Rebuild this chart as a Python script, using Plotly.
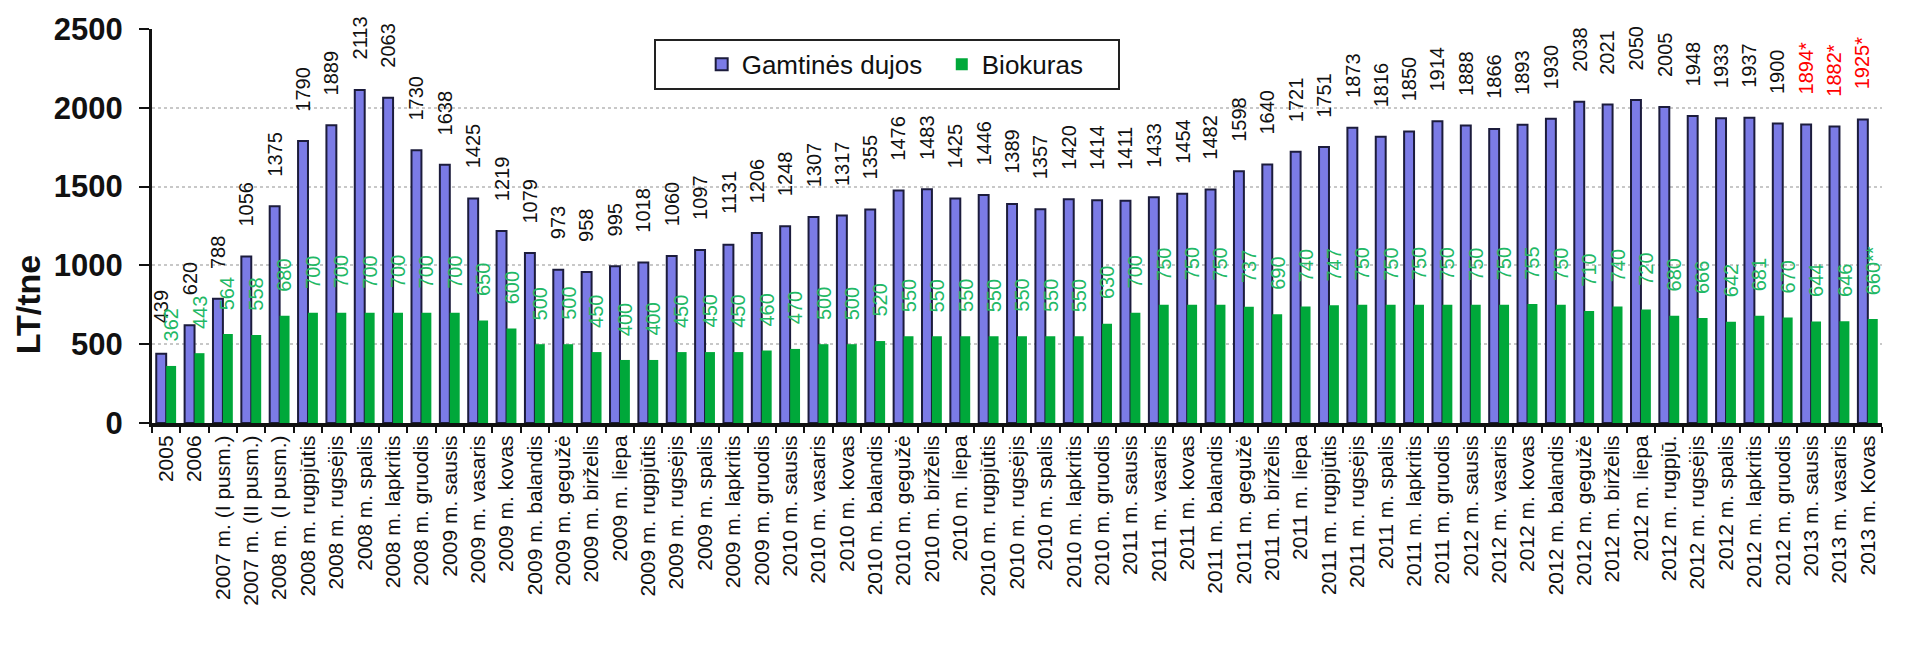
import plotly.graph_objects as go

categories = [
    "2005", "2006", "2007 m. (I pusm.)", "2007 m. (II pusm.)", "2008 m. (I pusm.)",
    "2008 m. rugpjūtis", "2008 m. rugsėjis", "2008 m. spalis", "2008 m. lapkritis", "2008 m. gruodis",
    "2009 m. sausis", "2009 m. vasaris", "2009 m. kovas", "2009 m. balandis", "2009 m. gegužė",
    "2009 m. birželis", "2009 m. liepa", "2009 m. rugpjūtis", "2009 m. rugsėjis", "2009 m. spalis",
    "2009 m. lapkritis", "2009 m. gruodis", "2010 m. sausis", "2010 m. vasaris", "2010 m. kovas",
    "2010 m. balandis", "2010 m. gegužė", "2010 m. birželis", "2010 m. liepa", "2010 m. rugpjūtis",
    "2010 m. rugsėjis", "2010 m. spalis", "2010 m. lapkritis", "2010 m. gruodis", "2011 m. sausis",
    "2011 m. vasaris", "2011 m. kovas", "2011 m. balandis", "2011 m. gegužė", "2011 m. birželis",
    "2011 m. liepa", "2011 m. rugpjūtis", "2011 m. rugsėjis", "2011 m. spalis", "2011 m. lapkritis",
    "2011 m. gruodis", "2012 m. sausis", "2012 m. vasaris", "2012 m. kovas", "2012 m. balandis",
    "2012 m. gegužė", "2012 m. birželis", "2012 m. liepa", "2012 m. rugpjū.", "2012 m. rugsėjis",
    "2012 m. spalis", "2012 m. lapkritis", "2012 m. gruodis", "2013 m. sausis", "2013 m. vasaris",
    "2013 m. Kovas",
]

gas = [
    439, 620, 788, 1056, 1375, 1790, 1889, 2113, 2063, 1730,
    1638, 1425, 1219, 1079, 973, 958, 995, 1018, 1060, 1097,
    1131, 1206, 1248, 1307, 1317, 1355, 1476, 1483, 1425, 1446,
    1389, 1357, 1420, 1414, 1411, 1433, 1454, 1482, 1598, 1640,
    1721, 1751, 1873, 1816, 1850, 1914, 1888, 1866, 1893, 1930,
    2038, 2021, 2050, 2005, 1948, 1933, 1937, 1900, 1894, 1882,
    1925,
]

bio = [
    362, 443, 564, 558, 680, 700, 700, 700, 700, 700,
    700, 650, 600, 500, 500, 450, 400, 400, 450, 450,
    450, 460, 470, 500, 500, 520, 550, 550, 550, 550,
    550, 550, 550, 630, 700, 750, 750, 750, 737, 690,
    740, 747, 750, 750, 750, 750, 750, 750, 755, 750,
    710, 740, 720, 680, 666, 642, 681, 670, 644, 646,
    660,
]

gas_notes = [""] * 58 + ["*", "*", "*"]
bio_notes = [""] * 60 + ["**"]

FONT = "Arial, Liberation Sans, sans-serif"
GAS_COLOR = "#7b7be6"
GAS_EDGE = "#1c1c3c"
BIO_COLOR = "#00a83a"
BIO_TEXT = "#22b865"
LABEL_SIZE = 20
LABEL_GAP = 24
NBSP = "\u00a0"


def half_len(s):
    # approximate half-length (px) of a rotated label, for centring it above its bar
    w = sum(0.39 if ch == "*" else 0.556 for ch in s)
    return w * LABEL_SIZE / 2


fig = go.Figure()
fig.add_trace(go.Bar(
    x=categories, y=gas, name="Gamtinės dujos" + NBSP * 2,
    marker=dict(color=GAS_COLOR, line=dict(color=GAS_EDGE, width=2)),
))
fig.add_trace(go.Bar(
    x=categories, y=bio, name="Biokuras" + NBSP * 4,
    marker=dict(color=BIO_COLOR, line=dict(width=0)),
))

annotations = []
# category positions are given by index so numeric-looking names ("2005") are not read as numbers
for i, (v, n) in enumerate(zip(gas, gas_notes)):
    t = f"{v}{n}"
    annotations.append(dict(
        x=i, y=v, xref="x", yref="y", text=t, showarrow=False,
        textangle=-90, xanchor="center", yanchor="middle",
        xshift=-5, yshift=LABEL_GAP + half_len(t) + 6,
        font=dict(family=FONT, size=LABEL_SIZE, color="#ff0000" if n else "#111111"),
    ))
for i, (v, n) in enumerate(zip(bio, bio_notes)):
    t = f"{v}{n}"
    annotations.append(dict(
        x=i, y=v, xref="x", yref="y", text=t, showarrow=False,
        textangle=-90, xanchor="center", yanchor="middle",
        xshift=5, yshift=LABEL_GAP + half_len(t),
        font=dict(family=FONT, size=LABEL_SIZE, color=BIO_TEXT),
    ))
annotations.append(dict(
    x=-0.072, y=0.30, xref="paper", yref="paper", text="LT/tne", showarrow=False,
    textangle=-90, xanchor="center", yanchor="middle",
    font=dict(family=FONT, size=34, color="#111111", weight="bold"),
))

fig.update_layout(
    width=1906, height=647,
    margin=dict(l=152, r=24, t=27, b=224),
    paper_bgcolor="white", plot_bgcolor="white",
    barmode="group", bargap=0.3, bargroupgap=0,
    font=dict(family=FONT, color="#111111"),
    legend=dict(
        orientation="h", x=0.4246, xanchor="center", y=0.975, yanchor="top",
        bgcolor="white", bordercolor="#222222", borderwidth=2,
        font=dict(family=FONT, size=26, color="#111111"),
        title=dict(text=NBSP * 5, side="left", font=dict(size=26)),
        itemwidth=30,
    ),
    annotations=annotations,
    showlegend=True,
)

fig.update_xaxes(
    type="category", showline=True, linecolor="#111111", linewidth=4,
    ticks="outside", tickson="boundaries", ticklen=6, tickwidth=2, tickcolor="#111111",
    tickangle=-90, tickfont=dict(family=FONT, size=21, color="#111111"),
    showgrid=False, range=[-0.5, len(categories) - 0.5],
)
fig.update_yaxes(
    range=[0, 2500], dtick=500, showline=True, linecolor="#111111", linewidth=3,
    ticks="outside", ticklen=10, tickwidth=2, tickcolor="#111111",
    tickfont=dict(family=FONT, size=31, color="#111111", weight="bold"),
    showgrid=True, gridcolor="#c8c8c8", griddash="dot", gridwidth=2,
    zeroline=False, ticklabelstandoff=10,
)

fig.write_html("out.html")
